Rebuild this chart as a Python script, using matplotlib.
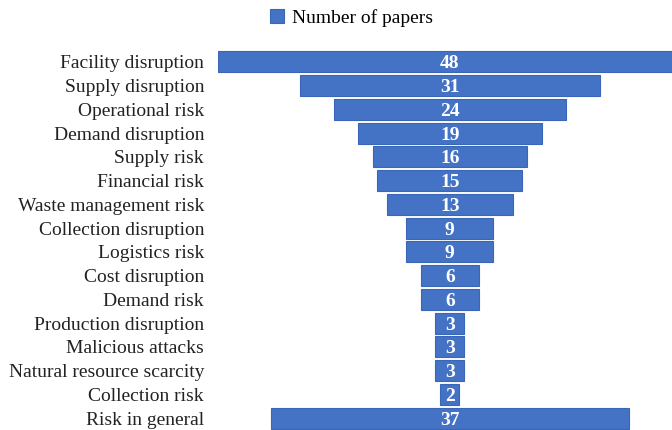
import matplotlib.pyplot as plt
from matplotlib.patches import Patch

categories = ["Facility disruption", "Supply disruption", "Operational risk",
              "Demand disruption", "Supply risk", "Financial risk",
              "Waste management risk", "Collection disruption", "Logistics risk",
              "Cost disruption", "Demand risk", "Production disruption",
              "Malicious attacks", "Natural resource scarcity", "Collection risk",
              "Risk in general"]
papers = [48, 31, 24, 19, 16, 15, 13, 9, 9, 6, 6, 3, 3, 3, 2, 37]

plt.rcParams["font.family"] = ["Liberation Serif", "DejaVu Serif"]

fig = plt.figure(figsize=(6.72, 4.30), dpi=100)
ax = fig.add_axes([218 / 672, 0.0, 1 - 218 / 672, 1 - 50 / 430])

# funnel: bars centred on zero
y = list(range(len(categories)))
lefts = [-v / 2 for v in papers]
ax.barh(y, papers, left=lefts, height=0.88, color="#4472C4",
        edgecolor="#3A66B8", linewidth=0.8)

for yi, v in zip(y, papers):
    ax.text(0, yi, str(v), ha="center", va="center_baseline", color="white",
            fontsize=14, fontweight="bold")

ax.set_xlim(-24, 23)
ax.set_ylim(len(categories) - 0.5, -0.5)
ax.set_yticks(y)
ax.set_yticklabels(categories, fontsize=14, color="#222222")
ax.tick_params(axis="y", length=0, pad=10)
ax.set_xticks([])
for s in ax.spines.values():
    s.set_visible(False)

fig.legend(handles=[Patch(facecolor="#4472C4", edgecolor="#3A66B8", linewidth=0.8)],
           labels=["Number of papers"], loc="center left",
           bbox_to_anchor=(270 / 672, 1 - 18 / 430), frameon=False,
           fontsize=14, handlelength=0.7, handleheight=0.7,
           handletextpad=0.45, borderpad=0, borderaxespad=0)

fig.savefig("out.png", dpi=100)
